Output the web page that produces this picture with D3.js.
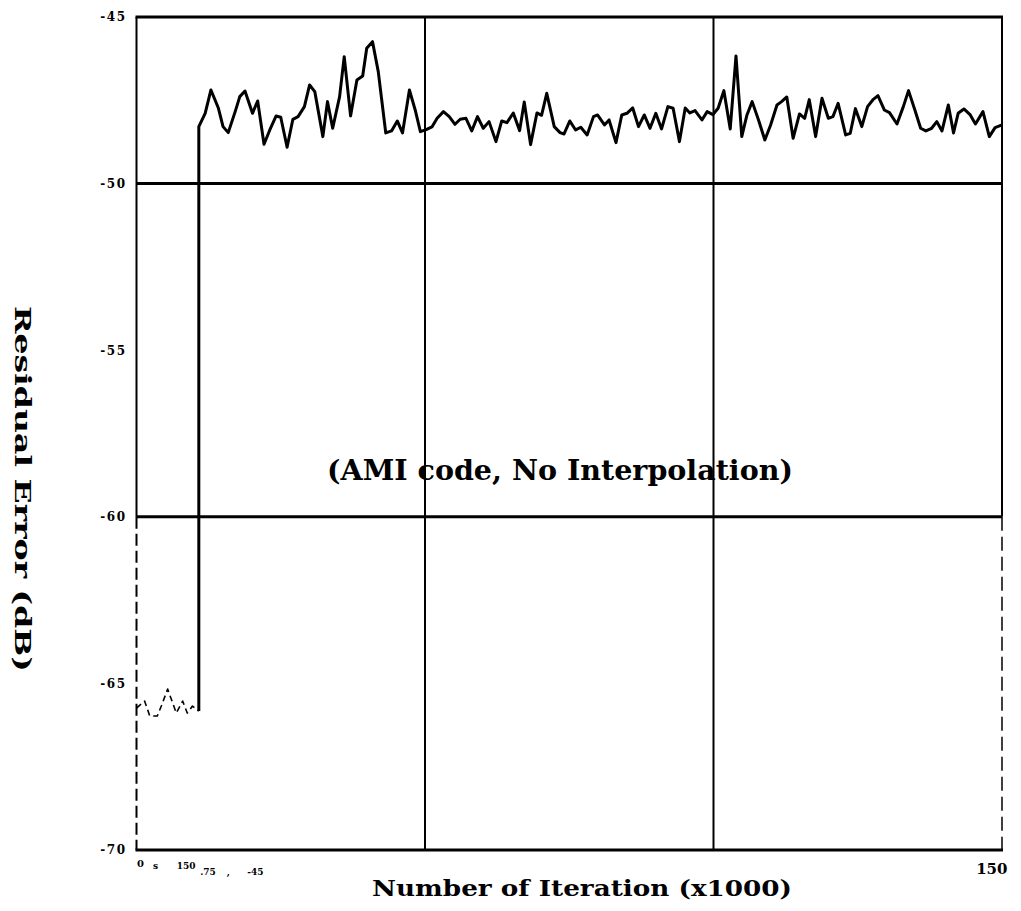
<!DOCTYPE html>
<html>
<head>
<meta charset="utf-8">
<script src="https://cdn.jsdelivr.net/npm/d3@7"></script>
<style>
  html, body { margin: 0; padding: 0; background: #fff; }
  svg { display: block; }
</style>
</head>
<body>
<script>
// Residual error vs. iteration count (thousands), AMI code without interpolation.

// Start-up segment, before the step in the residual error
const iterStart = [0, 1.4, 2.3, 3.6, 4.3, 5.4, 6.9, 8.0, 8.8, 9.7, 10.8];
const errStart = [-65.74, -65.53, -65.98, -65.98, -65.68, -65.17, -65.89, -65.53, -65.89, -65.68, -65.83];

// Main trace after the step
const iteration = [
  10.8, 11.9, 12.9, 14.2, 15.0, 15.9, 17.1, 17.9, 18.8, 20.1,
  21.0, 22.1, 23.1, 24.2, 25.0, 26.1, 27.1, 28.0, 29.1, 30.0,
  30.9, 32.3, 33.1, 34.0, 35.2, 36.0, 37.1, 38.2, 39.2, 39.9,
  40.9, 41.9, 43.2, 44.2, 45.2, 46.1, 47.3, 48.3, 49.2, 50.2,
  51.2, 52.1, 53.2, 54.2, 55.2, 56.1, 57.1, 58.1, 59.1, 60.1,
  61.1, 62.3, 63.3, 64.2, 65.3, 66.4, 67.2, 68.3, 69.4, 70.2,
  71.1, 72.4, 73.4, 74.1, 75.1, 76.1, 77.0, 78.1, 79.2, 79.9,
  81.1, 81.9, 83.1, 84.1, 85.0, 86.0, 87.0, 88.0, 89.0, 90.0,
  91.0, 92.1, 93.0, 94.1, 95.1, 95.9, 96.8, 98.0, 98.9, 99.9,
  100.8, 101.8, 102.9, 103.9, 104.9, 105.8, 106.7, 107.8, 108.9, 109.9,
  111.0, 111.8, 112.7, 113.8, 114.9, 115.8, 116.6, 117.7, 118.8, 119.9,
  120.7, 121.6, 122.9, 123.7, 124.6, 125.7, 126.7, 127.7, 128.5, 129.6,
  130.5, 131.8, 132.9, 133.8, 134.9, 135.9, 136.8, 137.8, 138.7, 139.6,
  140.7, 141.6, 142.4, 143.4, 144.5, 145.4, 146.7, 147.8, 148.8, 150.0
];
const residual = [
  -48.29, -47.89, -47.19, -47.74, -48.29, -48.47, -47.84, -47.39, -47.22, -47.89,
  -47.52, -48.82, -48.39, -47.97, -48.01, -48.91, -48.07, -47.99, -47.69, -47.04,
  -47.24, -48.59, -47.54, -48.34, -47.39, -46.19, -47.97, -46.89, -46.77, -45.94,
  -45.74, -46.64, -48.48, -48.42, -48.12, -48.48, -47.19, -47.79, -48.44, -48.38,
  -48.30, -48.04, -47.84, -47.99, -48.22, -48.07, -48.04, -48.42, -47.99, -48.34,
  -48.14, -48.74, -48.12, -48.17, -47.88, -48.41, -47.55, -48.83, -47.88, -47.95,
  -47.29, -48.29, -48.47, -48.51, -48.12, -48.39, -48.31, -48.54, -47.99, -47.94,
  -48.24, -48.09, -48.77, -47.94, -47.89, -47.73, -48.29, -47.94, -48.34, -47.89,
  -48.36, -47.69, -47.74, -48.74, -47.73, -47.88, -47.81, -48.09, -47.84, -47.93,
  -47.74, -47.21, -48.36, -46.17, -48.59, -47.94, -47.54, -48.09, -48.69, -48.24,
  -47.64, -47.54, -47.40, -48.64, -47.91, -48.04, -47.48, -48.59, -47.44, -48.04,
  -47.99, -47.59, -48.54, -48.49, -47.75, -48.29, -47.69, -47.47, -47.36, -47.79,
  -47.87, -48.21, -47.69, -47.21, -47.79, -48.34, -48.42, -48.34, -48.14, -48.42,
  -47.64, -48.48, -47.89, -47.76, -47.94, -48.21, -47.84, -48.59, -48.32, -48.24
];

// Axis ticks and grid
const yTicks = [-45, -50, -55, -60, -65, -70];
const yGrid = [-50, -60];
const xTicks = [0, 150];
const xGrid = [50, 100];
// Small secondary labels printed under the origin
const subTickPos = [3.3, 8.6, 12.4, 15.9, 20.6];
const subTickText = ["s", "150", ".75", ",", "-45"];

const title = "(AMI code, No Interpolation)";
const xTitle = "Number of Iteration (x1000)";
const yTitle = "Residual Error (dB)";

const W = 1021, H = 911;
const svg = d3.select("body").append("svg").attr("width", W).attr("height", H);

const x = d3.scaleLinear().domain([0, 150]).range([136.5, 1002]);
const y = d3.scaleLinear().domain([-70, -45]).range([850, 17]);

const serif = "'DejaVu Serif', 'Liberation Serif', serif";

// Grid lines
svg.append("g").selectAll("line").data(yGrid).join("line")
  .attr("x1", x(0)).attr("x2", x(150))
  .attr("y1", d => y(d)).attr("y2", d => y(d))
  .attr("stroke", "#000").attr("stroke-width", 3);

svg.append("g").selectAll("line").data(xGrid).join("line")
  .attr("x1", d => x(d)).attr("x2", d => x(d))
  .attr("y1", y(-45)).attr("y2", y(-70))
  .attr("stroke", "#000").attr("stroke-width", 2);

// Frame: top/bottom heavier, left broken below -60
const frame = svg.append("g").attr("stroke", "#000").attr("fill", "none");
frame.append("line").attr("x1", x(0) - 1).attr("x2", x(150) + 1).attr("y1", y(-45)).attr("y2", y(-45)).attr("stroke-width", 3);
frame.append("line").attr("x1", x(0) - 1).attr("x2", x(150) + 1).attr("y1", y(-70)).attr("y2", y(-70)).attr("stroke-width", 3);
frame.append("line").attr("x1", x(150)).attr("x2", x(150)).attr("y1", y(-45)).attr("y2", y(-60)).attr("stroke-width", 2);
frame.append("line").attr("x1", x(150)).attr("x2", x(150)).attr("y1", y(-60)).attr("y2", y(-70)).attr("stroke-width", 1.5).attr("stroke-dasharray", "14,6");
frame.append("line").attr("x1", x(0)).attr("x2", x(0)).attr("y1", y(-45)).attr("y2", y(-60)).attr("stroke-width", 2);
frame.append("line").attr("x1", x(0)).attr("x2", x(0)).attr("y1", y(-60)).attr("y2", y(-70)).attr("stroke-width", 2).attr("stroke-dasharray", "12,5");

// Y tick labels
const yAxis = d3.axisLeft(y).tickValues(yTicks).tickSize(0).tickPadding(10).tickFormat(d => String(d));
const gy = svg.append("g").attr("transform", `translate(${x(0)},0)`).call(yAxis);
gy.select(".domain").remove();
gy.selectAll("text").attr("font-family", serif).attr("font-weight", "bold").attr("font-size", 12)
  .attr("letter-spacing", 1.5).attr("fill", "#000");

// X tick labels
const xAxis = d3.axisBottom(x).tickValues(xTicks).tickSize(0).tickPadding(10).tickFormat(d => String(d));
const gx = svg.append("g").attr("transform", `translate(0,${y(-70)})`).call(xAxis);
gx.select(".domain").remove();
gx.selectAll("text").attr("font-family", serif).attr("font-weight", "bold").attr("fill", "#000")
  .attr("font-size", d => d === 0 ? 10 : 15)
  .attr("text-anchor", d => d === 0 ? "start" : "end")
  .attr("dx", d => d === 0 ? 0 : 5)
  .attr("dy", d => d === 0 ? "0.71em" : "0.95em");

svg.append("g").selectAll("text").data(d3.zip(subTickPos, subTickText)).join("text")
  .attr("x", d => x(d[0]))
  .attr("y", (d, i) => i < 2 ? 869 : 875)
  .attr("text-anchor", "middle")
  .attr("font-family", serif).attr("font-weight", "bold").attr("font-size", 9)
  .text(d => d[1]);

// Traces
const line = d3.line().x(d => x(d[0])).y(d => y(d[1]));

svg.append("path")
  .datum(d3.zip(iterStart, errStart))
  .attr("d", line)
  .attr("fill", "none").attr("stroke", "#000")
  .attr("stroke-width", 1.6).attr("stroke-dasharray", "6,4")
  .attr("stroke-linejoin", "round");

const mainPts = [[iterStart[iterStart.length - 1], errStart[errStart.length - 1]]].concat(d3.zip(iteration, residual));
svg.append("path")
  .datum(mainPts)
  .attr("d", line)
  .attr("fill", "none").attr("stroke", "#000")
  .attr("stroke-width", 3)
  .attr("stroke-linejoin", "round");

// Titles
svg.append("text")
  .attr("x", 560).attr("y", 480)
  .attr("text-anchor", "middle")
  .attr("font-family", serif).attr("font-weight", "bold").attr("font-size", 28)
  .attr("textLength", 466).attr("lengthAdjust", "spacingAndGlyphs")
  .text(title);

svg.append("text")
  .attr("x", 582).attr("y", 896)
  .attr("text-anchor", "middle")
  .attr("font-family", serif).attr("font-weight", "bold").attr("font-size", 23)
  .attr("textLength", 420).attr("lengthAdjust", "spacingAndGlyphs")
  .text(xTitle);

svg.append("text")
  .attr("transform", "translate(15,489) rotate(90)")
  .attr("text-anchor", "middle")
  .attr("font-family", serif).attr("font-weight", "bold").attr("font-size", 23)
  .attr("textLength", 366).attr("lengthAdjust", "spacingAndGlyphs")
  .text(yTitle);
</script>
</body>
</html>
